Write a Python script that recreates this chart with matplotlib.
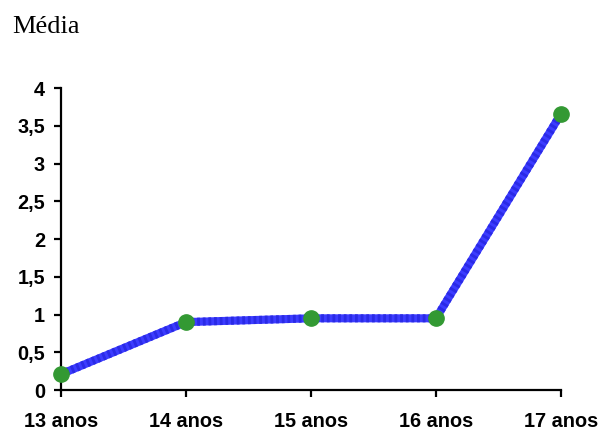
import matplotlib.pyplot as plt

# dados do gráfico
idades = ["13 anos", "14 anos", "15 anos", "16 anos", "17 anos"]
media = [0.21, 0.90, 0.95, 0.95, 3.66]
yticks = [0, 0.5, 1, 1.5, 2, 2.5, 3, 3.5, 4]

fig = plt.figure(figsize=(6.02, 4.30), dpi=100)
ax = fig.add_axes([0.1013, 0.093, 0.8306, 0.702])

x = list(range(len(idades)))
# linha base + listras finas (efeito hachurado do original)
ax.plot(x, media, color='#3c3cff', linewidth=5.8, solid_capstyle='butt',
        zorder=2, clip_on=False)
ax.plot(x, media, color='#2a2ae6', linewidth=5.8, linestyle=(0, (0.35, 0.35)),
        dash_capstyle='butt', zorder=2, clip_on=False)
ax.plot(x, media, linestyle='none', marker='o', markersize=11,
        color='#339933', zorder=3, clip_on=False)

ax.set_xlim(0, len(idades) - 1)
ax.set_ylim(0, 4)
ax.set_xticks(x)
ax.set_xticklabels(idades)
ax.set_yticks(yticks)
ax.set_yticklabels([f"{v:g}".replace('.', ',') for v in yticks])

for lab in ax.get_xticklabels() + ax.get_yticklabels():
    lab.set_fontfamily('Liberation Sans')
    lab.set_fontweight('bold')
    lab.set_fontsize(14.3)

ax.spines['top'].set_visible(False)
ax.spines['right'].set_visible(False)
ax.spines['left'].set_linewidth(1.6)
ax.spines['bottom'].set_linewidth(1.6)
ax.tick_params(direction='out', length=5, width=1.6)
ax.tick_params(axis='x', pad=11)
ax.tick_params(axis='y', pad=6.5)

fig.text(12 / 602, 1 - 33 / 430, "Média", fontfamily='Liberation Serif',
         fontsize=19, va='baseline', ha='left')

fig.savefig("out.png", dpi=100)
plt.close(fig)
